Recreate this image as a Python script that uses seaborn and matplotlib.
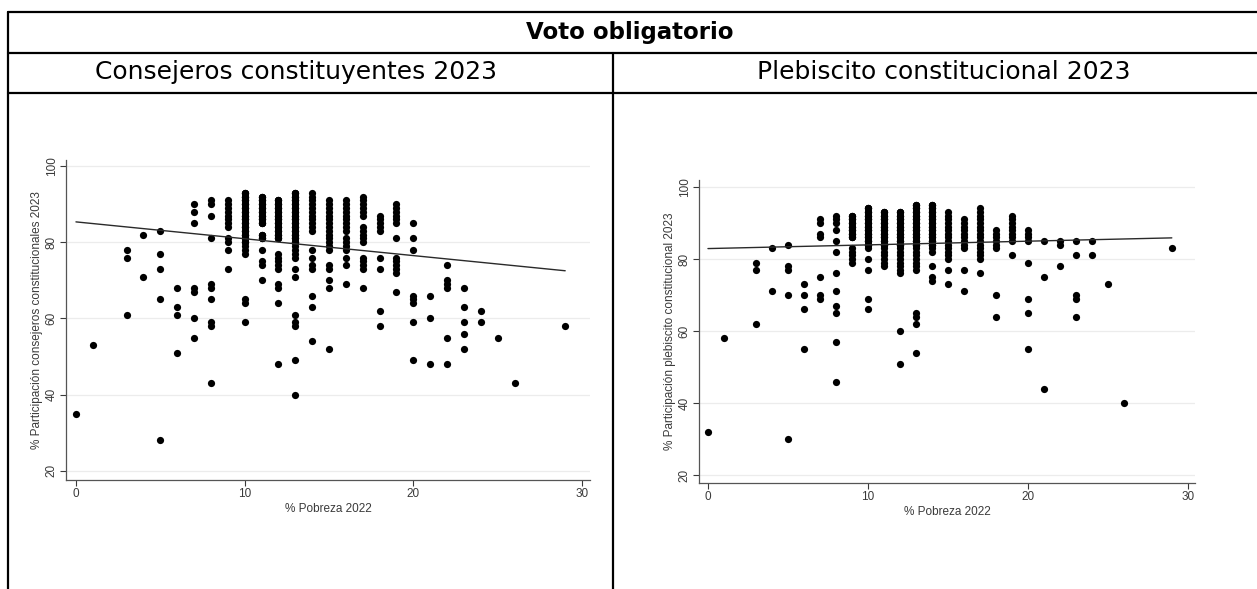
import matplotlib
matplotlib.use("Agg")
import matplotlib.pyplot as plt
from matplotlib.lines import Line2D
import seaborn as sns
import pandas as pd

# ---------------- data ----------------
# % Pobreza 2022 levels (x) and the participation values observed at each level
# (dense stacks hold overlapping communes, hence repeated values)
cons_pobreza = [0, 1, 3, 4, 5, 6, 7, 8, 9, 10, 11, 12, 13, 14, 15, 16, 17, 18, 19,
                20, 21, 22, 23, 24, 25, 26, 29]
cons_participacion = [
    [35],
    [53],
    [78, 76, 61],
    [82, 71],
    [83, 77, 73, 65, 28],
    [68, 63, 61, 51],
    [90, 88, 85, 68, 67, 60, 55],
    [91, 90, 87, 81, 69, 68, 65, 59, 58, 43],
    [91, 90, 89, 88, 87, 86, 85, 84, 81, 80, 78, 73],
    [93, 93, 93, 92, 92, 92, 91, 91, 91, 90, 90, 90, 89, 89, 89, 88, 88, 88,
     87, 87, 87, 86, 86, 86, 85, 85, 85, 84, 84, 84, 83, 83, 83, 82, 82, 82,
     81, 81, 81, 80, 80, 80, 79, 78, 77, 65, 64, 59],
    [92, 92, 92, 91, 91, 91, 90, 90, 90, 89, 89, 89, 88, 88, 88, 87, 87, 87,
     86, 86, 86, 85, 85, 85, 82, 82, 82, 81, 81, 81, 78, 75, 74, 70],
    [91, 91, 91, 90, 90, 90, 89, 89, 89, 88, 88, 88, 87, 87, 87, 86, 86, 86,
     85, 85, 85, 84, 84, 84, 83, 83, 83, 82, 82, 82, 81, 81, 81,
     77, 76, 75, 74, 73, 69, 68, 64, 48],
    [93, 93, 93, 92, 92, 92, 91, 91, 91, 90, 90, 90, 89, 89, 89, 88, 88, 88,
     87, 87, 87, 86, 86, 86, 85, 85, 85, 84, 84, 84, 83, 83, 83, 82, 82, 82,
     81, 81, 81, 80, 80, 80, 79, 78, 77, 76, 73, 71, 61, 59, 58, 49, 40],
    [93, 92, 91, 90, 89, 88, 87, 86, 85, 84, 83, 78, 76, 74, 73, 66, 63, 54],
    [91, 90, 89, 88, 87, 86, 85, 84, 83, 82, 81, 80, 79, 78, 74, 73, 70, 68, 52],
    [91, 90, 89, 88, 87, 86, 85, 84, 83, 81, 80, 79, 78, 76, 74, 69],
    [92, 91, 90, 89, 88, 87, 84, 83, 82, 81, 80, 76, 75, 74, 73, 68],
    [87, 86, 85, 84, 83, 76, 73, 62, 58],
    [90, 89, 88, 87, 86, 85, 81, 76, 75, 74, 73, 72, 67],
    [85, 81, 78, 66, 65, 64, 59, 49],
    [66, 60, 48],
    [74, 70, 69, 68, 55, 48],
    [68, 63, 59, 56, 52],
    [62, 59],
    [55],
    [43],
    [58],
]

pleb_pobreza = [0, 1, 3, 4, 5, 6, 7, 8, 9, 10, 11, 12, 13, 14, 15, 16, 17, 18, 19,
                20, 21, 22, 23, 24, 25, 26, 29]
pleb_participacion = [
    [32],
    [58],
    [79, 77, 62],
    [83, 71],
    [84, 78, 77, 70, 30],
    [73, 70, 66, 55],
    [91, 90, 87, 86, 75, 70, 69],
    [92, 91, 90, 88, 85, 82, 76, 71, 67, 65, 57, 46],
    [92, 92, 92, 91, 91, 91, 90, 90, 90, 89, 89, 89, 88, 88, 88, 87, 87, 87,
     86, 86, 86, 83, 82, 81, 80, 79],
    [94, 94, 94, 93, 93, 93, 92, 92, 92, 91, 91, 91, 90, 90, 90, 89, 89, 89,
     88, 88, 88, 87, 87, 87, 86, 86, 86, 85, 85, 85, 84, 84, 84,
     83, 80, 77, 69, 66],
    [93, 93, 93, 92, 92, 92, 91, 91, 91, 90, 90, 90, 89, 89, 89, 88, 88, 88,
     87, 87, 87, 86, 86, 86, 85, 85, 85, 84, 84, 84, 83, 82, 81, 80, 79, 78],
    [93, 93, 93, 92, 92, 92, 91, 91, 91, 90, 90, 90, 89, 89, 89, 88, 88, 88,
     87, 87, 87, 86, 86, 86, 85, 85, 85, 84, 84, 84,
     83, 82, 81, 80, 79, 78, 77, 76, 60, 51],
    [95, 95, 95, 94, 94, 94, 93, 93, 93, 92, 92, 92, 91, 91, 91, 90, 90, 90,
     89, 89, 89, 88, 88, 88, 87, 87, 87, 86, 86, 86, 85, 85, 85, 84, 84, 84,
     83, 82, 81, 80, 79, 78, 77, 65, 64, 62, 54],
    [95, 95, 95, 94, 94, 94, 93, 93, 93, 92, 92, 92, 91, 91, 91, 90, 90, 90,
     89, 89, 89, 88, 88, 88, 87, 87, 87, 86, 86, 86, 85, 85, 85, 84, 84, 84,
     83, 82, 78, 75, 74],
    [93, 92, 91, 90, 89, 88, 87, 86, 85, 84, 83, 82, 81, 80, 77, 73],
    [91, 90, 89, 88, 87, 86, 85, 84, 83, 77, 71],
    [94, 93, 92, 91, 90, 89, 88, 87, 86, 85, 84, 83, 82, 81, 80, 76],
    [88, 87, 86, 85, 84, 83, 70, 64],
    [92, 91, 90, 89, 88, 87, 86, 85, 81],
    [88, 87, 86, 85, 79, 69, 65, 55],
    [85, 75, 44],
    [85, 84, 78],
    [85, 81, 70, 69, 64],
    [85, 81],
    [73],
    [40],
    [83],
]

x_ticks = [0, 10, 20, 30]
y_ticks = [20, 40, 60, 80, 100]

titulo = "Voto obligatorio"
col_titles = ["Consejeros constituyentes 2023", "Plebiscito constitucional 2023"]
x_label = "% Pobreza 2022"
y_labels = ["% Participación consejeros constitucionales 2023",
            "% Participación plebiscito constitucional 2023"]


def to_frame(levels, values):
    rows = []
    for x, ys in zip(levels, values):
        for y in ys:
            rows.append((x, y))
    return pd.DataFrame(rows, columns=["pobreza", "participacion"])


df_cons = to_frame(cons_pobreza, cons_participacion)
df_pleb = to_frame(pleb_pobreza, pleb_participacion)

# ---------------- figure ----------------
sns.set_theme(style="white")
plt.rcParams["font.family"] = ["Liberation Sans", "DejaVu Sans"]

W, H = 1257, 589
fig = plt.figure(figsize=(W / 100, H / 100), dpi=100)
fig.patch.set_facecolor("white")


def fx(px):
    return px / W


def fy(py):
    return 1 - py / H


# table lines
lc = "black"
lw = 1.6
fig.add_artist(Line2D([fx(8), 1], [fy(12), fy(12)], color=lc, lw=lw))
fig.add_artist(Line2D([fx(8), 1], [fy(53), fy(53)], color=lc, lw=lw))
fig.add_artist(Line2D([fx(8), 1], [fy(93), fy(93)], color=lc, lw=lw))
fig.add_artist(Line2D([fx(8), fx(8)], [fy(12), 0], color=lc, lw=lw))
fig.add_artist(Line2D([fx(613), fx(613)], [fy(53), 0], color=lc, lw=lw))

hdr_font = ["DejaVu Sans"]
fig.text(fx(630), fy(33), titulo, ha="center", va="center", fontsize=16.5,
         fontweight="bold", family=hdr_font, color="black")
fig.text(fx(296), fy(72), col_titles[0], ha="center", va="center", fontsize=18,
         family=hdr_font, color="black")
fig.text(fx(944), fy(72), col_titles[1], ha="center", va="center", fontsize=18,
         family=hdr_font, color="black")

panels = [
    dict(df=df_cons, ylab=y_labels[0], box=(66, 590, 160, 480),
         xlim=(-0.59, 30.47), ylim=(17.6, 101.6)),
    dict(df=df_pleb, ylab=y_labels[1], box=(699, 1195, 180, 483),
         xlim=(-0.56, 30.45), ylim=(17.9, 101.9)),
]

txt_c = "#3a3a3a"
for p in panels:
    l, r, t, b = p["box"]
    ax = fig.add_axes([fx(l), fy(b), fx(r) - fx(l), fy(t) - fy(b)])
    ax.set_facecolor("white")
    for yt in y_ticks:
        ax.axhline(yt, color="#ececec", lw=0.9, zorder=0)
    sns.regplot(data=p["df"], x="pobreza", y="participacion", ax=ax, ci=None,
                scatter_kws=dict(s=27, color="black", linewidths=0, alpha=1, zorder=3),
                line_kws=dict(color="#2a2a2a", lw=1.0, zorder=4))
    ax.set_xlim(*p["xlim"])
    ax.set_ylim(*p["ylim"])
    ax.set_xticks(x_ticks)
    ax.set_yticks(y_ticks)
    ax.set_xlabel(x_label, fontsize=8.5, color=txt_c, labelpad=2)
    ax.set_ylabel(p["ylab"], fontsize=8.5, color=txt_c, labelpad=2)
    ax.tick_params(axis="both", labelsize=8.5, colors=txt_c, length=4, width=0.8,
                   direction="out", left=True, bottom=True, pad=2)
    for lab in ax.get_yticklabels():
        lab.set_rotation(90)
        lab.set_va("center")
    for s in ["top", "right"]:
        ax.spines[s].set_visible(False)
    for s in ["left", "bottom"]:
        ax.spines[s].set_color("#555555")
        ax.spines[s].set_linewidth(0.9)

fig.savefig("out.png", dpi=100, facecolor="white")
